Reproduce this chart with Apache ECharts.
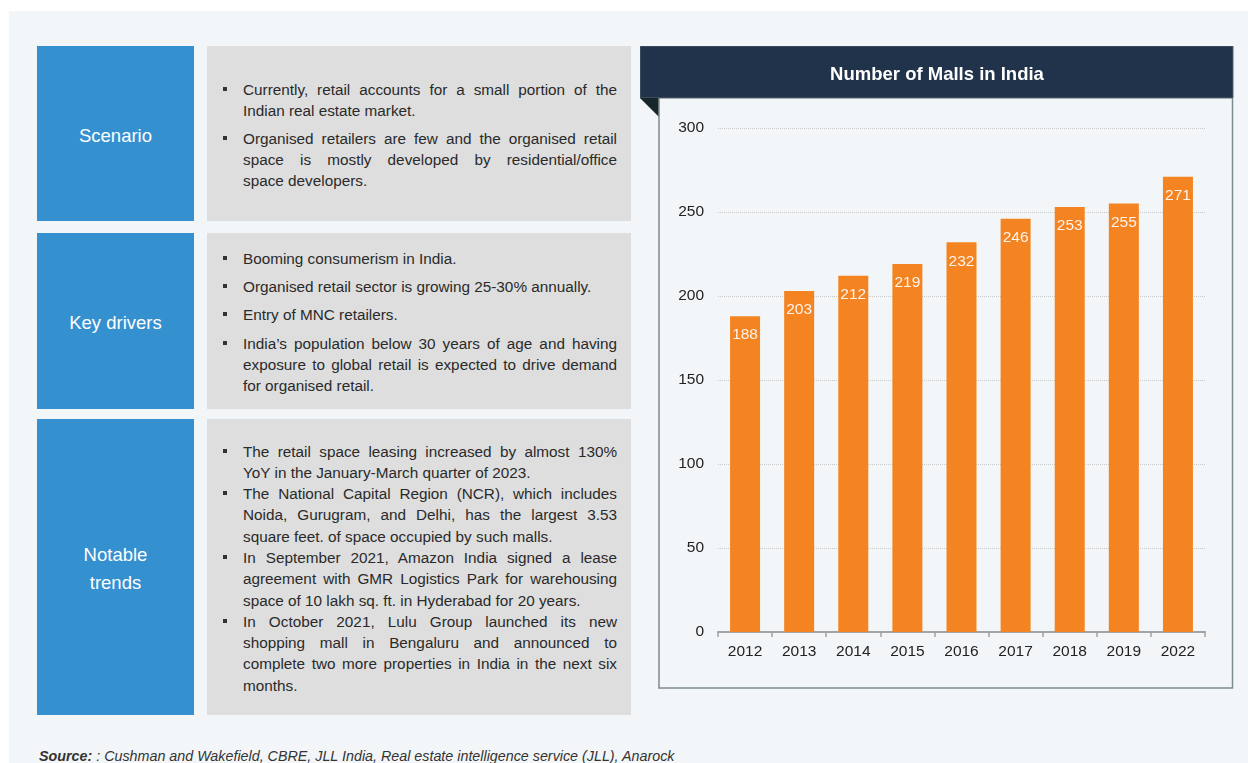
<!DOCTYPE html>
<html>
<head>
<meta charset="utf-8">
<script src="https://cdn.jsdelivr.net/npm/echarts@6/dist/echarts.min.js"></script>
<style>
  html, body { margin:0; padding:0; width:1248px; height:763px; overflow:hidden; background:#ffffff; font-family:"Liberation Sans", Arial, sans-serif; }
  #bg { position:absolute; left:9px; top:11px; right:0; bottom:0; background:#f3f6f8; }
  .lbl { position:absolute; left:37px; width:157px; background:#3590d0; color:#ffffff; font-size:18.5px; line-height:28px;
         display:flex; align-items:center; justify-content:center; text-align:center; box-sizing:border-box; padding-top:4px; }
  .box { position:absolute; left:207px; width:424px; background:#dedede; }
  .txt { position:absolute; left:243px; width:374px; color:#2a2a2a; font-size:15.3px; }
  .item { position:relative; }
  .item::before { content:""; position:absolute; left:-20px; top:8px; width:4px; height:4px; background:#333; }
  .ln { white-space:nowrap; text-align:justify; text-align-last:justify; }
  .ln.last { text-align-last:left; }
  #chart { position:absolute; left:640px; top:46px; width:594px; height:644px; }
  #src { position:absolute; left:39px; top:748px; font-size:14.3px; font-style:italic; color:#333; white-space:nowrap; }
</style>
</head>
<body>
<div id="bg"></div>

<div class="lbl" style="top:46px;height:175px;">Scenario</div>
<div class="box" style="top:46px;height:175px;"></div>
<div class="lbl" style="top:233px;height:176px;">Key drivers</div>
<div class="box" style="top:233px;height:176px;"></div>
<div class="lbl" style="top:419px;height:296px;">Notable<br>trends</div>
<div class="box" style="top:419px;height:296px;"></div>

<div id="t1" class="txt" style="top:78.5px;"></div>
<div id="t2" class="txt" style="top:247.5px;"></div>
<div id="t3" class="txt" style="top:440.5px;"></div>

<div id="chart"></div>
<div id="src"><b>Source:</b> : Cushman and Wakefield, CBRE, JLL India, Real estate intelligence service (JLL), Anarock</div>

<script>
// ---- chart data ----
const categories = ['2012', '2013', '2014', '2015', '2016', '2017', '2018', '2019', '2022'];
const malls = [188, 203, 212, 219, 232, 246, 253, 255, 271];
const chartTitle = 'Number of Malls in India';

// ---- panel text (each inner array = wrapped lines of one bullet) ----
const scenario = [
  ['Currently, retail accounts for a small portion of the', 'Indian real estate market.'],
  ['Organised retailers are few and the organised retail', 'space is mostly developed by residential/office', 'space developers.']
];
const keyDrivers = [
  ['Booming consumerism in India.'],
  ['Organised retail sector is growing 25-30% annually.'],
  ['Entry of MNC retailers.'],
  ['India\u2019s population below 30 years of age and having', 'exposure to global retail is expected to drive demand', 'for organised retail.']
];
const notableTrends = [
  ['The retail space leasing increased by almost 130%', 'YoY in the January-March quarter of 2023.'],
  ['The National Capital Region (NCR), which includes', 'Noida, Gurugram, and Delhi, has the largest 3.53', 'square feet. of space occupied by such malls.'],
  ['In September 2021, Amazon India signed a lease', 'agreement with GMR Logistics Park for warehousing', 'space of 10 lakh sq. ft. in Hyderabad for 20 years.'],
  ['In October 2021, Lulu Group launched its new', 'shopping mall in Bengaluru and announced to', 'complete two more properties in India in the next six', 'months.']
];

function fill(id, items, lh, gap) {
  const el = document.getElementById(id);
  items.forEach(function (lines, i) {
    const it = document.createElement('div');
    it.className = 'item';
    it.style.marginBottom = (i < items.length - 1 ? gap : 0) + 'px';
    lines.forEach(function (t, j) {
      const d = document.createElement('div');
      d.className = 'ln' + (j === lines.length - 1 ? ' last' : '');
      d.style.lineHeight = lh + 'px';
      d.style.height = lh + 'px';
      d.textContent = t;
      it.appendChild(d);
    });
    el.appendChild(it);
  });
}
fill('t1', scenario, 21, 7);
fill('t2', keyDrivers, 21, 7.4);
fill('t3', notableTrends, 21.3, 0);

// ---- chart ----
const chart = echarts.init(document.getElementById('chart'), null, { renderer: 'canvas' });
const FONT = 'Liberation Sans';
chart.setOption({
  animation: false,
  backgroundColor: 'transparent',
  title: {
    text: chartTitle,
    left: 'center',
    top: 14,
    textStyle: { color: '#ffffff', fontSize: 18.5, fontWeight: 'bold', fontFamily: FONT }
  },
  graphic: [
    { type: 'rect', z: -1, shape: { x: 0, y: 0, width: 593, height: 52 }, style: { fill: '#21334a', stroke: '#56656f', lineWidth: 1 } },
    { type: 'polygon', z: -1, shape: { points: [[0, 52], [19, 52], [19, 71]] }, style: { fill: '#17262b' } },
    { type: 'polyline', z: -1, shape: { points: [[19, 52], [19, 642], [592.5, 642], [592.5, 52]] }, style: { stroke: '#7d8a8f', lineWidth: 1.5, fill: null } }
  ],
  grid: { left: 78, right: 29, top: 82, bottom: 58 },
  xAxis: {
    type: 'category',
    data: categories,
    boundaryGap: true,
    axisLine: { lineStyle: { color: '#a3a3a3', width: 2 } },
    axisTick: { show: true, length: 5, lineStyle: { color: '#a3a3a3', width: 1.5 } },
    axisLabel: { color: '#222', fontSize: 15.5, fontFamily: FONT, margin: 12 }
  },
  yAxis: {
    type: 'value',
    min: 0, max: 300, interval: 50,
    axisLine: { show: false },
    axisTick: { show: false },
    axisLabel: { color: '#222', fontSize: 15.5, fontFamily: FONT, margin: 14 },
    splitLine: { lineStyle: { color: '#c9c9c9', type: 'dotted', width: 1 } }
  },
  series: [{
    type: 'bar',
    data: malls,
    barWidth: 30,
    itemStyle: { color: '#f48421' },
    label: {
      show: true,
      position: 'insideTop',
      distance: 11,
      color: '#fff3ec',
      fontSize: 15.5,
      fontFamily: FONT
    }
  }]
});
</script>
</body>
</html>
